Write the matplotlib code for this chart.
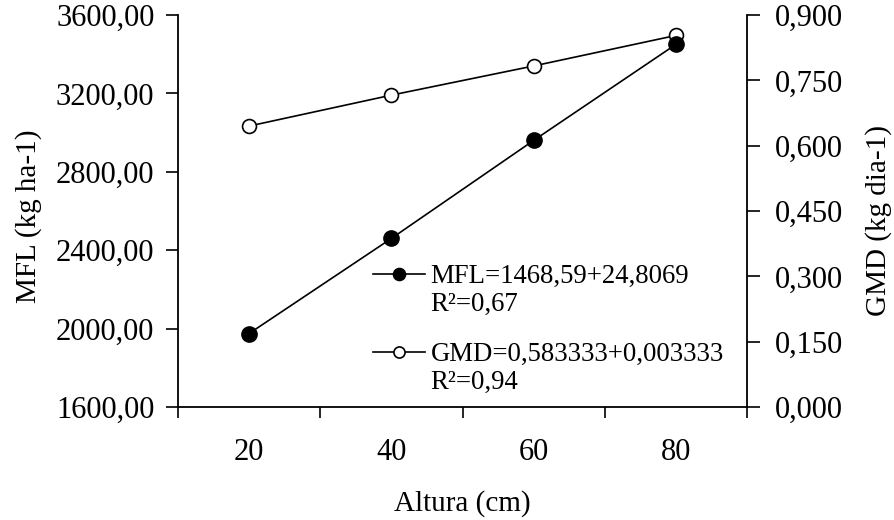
import matplotlib
matplotlib.use("Agg")
import matplotlib.pyplot as plt
from matplotlib.lines import Line2D
from matplotlib.ticker import FuncFormatter

# data
altura = ["20", "40", "60", "80"]
mfl = [1975, 2460, 2960, 3450]
gmd = [0.645, 0.716, 0.783, 0.853]

mfl_ticks = [1600, 2000, 2400, 2800, 3200, 3600]
gmd_ticks = [0.0, 0.15, 0.30, 0.45, 0.60, 0.75, 0.90]

mfl_eq, mfl_r2 = "MFL=1468,59+24,8069", "R²=0,67"
gmd_eq, gmd_r2 = "GMD=0,583333+0,003333", "R²=0,94"

plt.rcParams.update({
    "font.family": ["Liberation Serif", "DejaVu Serif"],
    "font.size": 21,
    "axes.linewidth": 1.3,
})


def comma(fmt):
    return FuncFormatter(lambda v, p: format(v, fmt).replace(".", ","))


fig = plt.figure(figsize=(8.94, 5.2), dpi=100)
ax = fig.add_axes([178 / 894, 113 / 520, 569 / 894, 392 / 520])
ax2 = ax.twinx()

x = list(range(len(altura)))
l1, = ax.plot(x, mfl, color="black", lw=1.2, marker="o", ms=11,
              mfc="black", mec="black")
l2, = ax2.plot(x, gmd, color="black", lw=1.2, marker="o", ms=10,
               mfc="white", mec="black", mew=1.2)

# filled series on top
ax.set_zorder(ax2.get_zorder() + 1)
ax.patch.set_visible(False)

ax.set_xlim(-0.5, len(altura) - 0.5)
ax.set_ylim(1600, 3600)
ax2.set_ylim(0, 0.9)

ax.set_yticks(mfl_ticks)
ax.yaxis.set_major_formatter(comma(".2f"))
ax2.set_yticks(gmd_ticks)
ax2.yaxis.set_major_formatter(comma(".3f"))

ax.set_xticks(x)
ax.set_xticklabels(altura)
ax.set_xticks([i - 0.5 for i in range(len(altura) + 1)], minor=True)
ax.tick_params(axis="x", which="major", length=0, pad=22, labelsize=22)
ax.tick_params(axis="x", which="minor", length=8, width=1.2)
ax.tick_params(axis="y", length=9, width=1.2, pad=8, labelsize=22)
ax2.tick_params(axis="y", length=9, width=1.2, pad=11, labelsize=22)

for s in ["top", "right"]:
    ax.spines[s].set_visible(False)
for s in ["top", "left", "bottom"]:
    ax2.spines[s].set_visible(False)

ax.set_xlabel("Altura (cm)")
ax.xaxis.set_label_coords(0.5, -0.213)
ax.set_ylabel("MFL (kg ha-1)")
ax.yaxis.set_label_coords(-0.239, 0.487)
ax2.set_ylabel("GMD (kg dia-1)")
ax2.yaxis.set_label_coords(1.207, 0.477)

# legend: one block per series, equation on the handle row, R² below it
blank = Line2D([], [], linestyle="none")
leg_kw = dict(loc="upper left", frameon=False, fontsize=19.3, handlelength=1.94,
              handletextpad=0.2, labelspacing=0.12, borderpad=0, borderaxespad=0,
              markerscale=0.8)
leg1 = ax.legend([l1, blank], [mfl_eq, mfl_r2], bbox_to_anchor=(0.343, 0.365), **leg_kw)
ax.add_artist(leg1)
leg2 = ax.legend([l2, blank], [gmd_eq, gmd_r2], bbox_to_anchor=(0.343, 0.166), **leg_kw)

fig.savefig("out.png", dpi=100)
